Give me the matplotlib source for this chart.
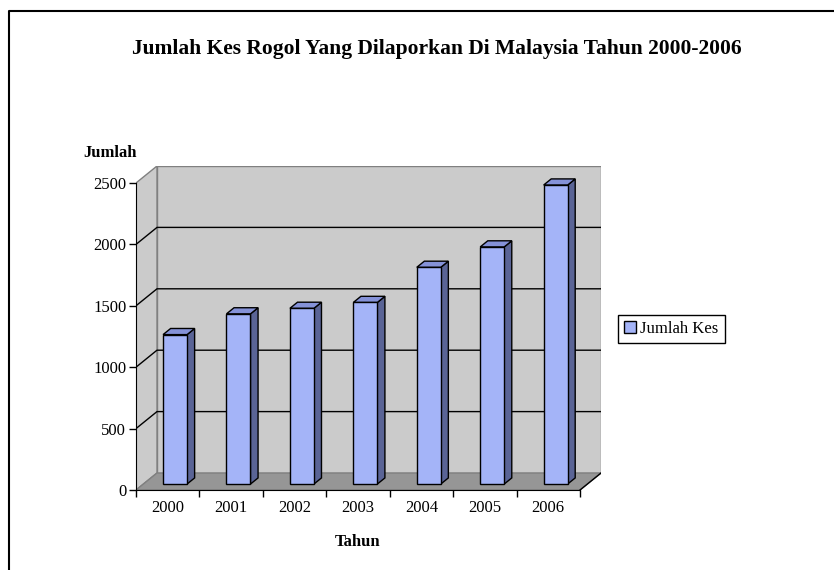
import numpy as np
import matplotlib
matplotlib.use('Agg')
import matplotlib.pyplot as plt
from matplotlib.patches import Polygon
from matplotlib.lines import Line2D

plt.rcParams['font.family'] = ['Liberation Serif', 'DejaVu Serif']

# data
years = ['2000', '2001', '2002', '2003', '2004', '2005', '2006']
cases = [1217, 1386, 1431, 1479, 1765, 1931, 2435]
yticks = [0, 500, 1000, 1500, 2000, 2500]

# colours
c_front = '#A4B4F8'
c_side = '#5A6496'
c_top = '#8592D8'
c_wall = '#CBCBCB'
c_floor = '#969696'
c_edge = '#808080'

fig = plt.figure(figsize=(8.34, 5.70), dpi=100)

# oblique depth in data units (px offset 21 right, 17 up)
n = len(years)
px_x = 63.43
ymax = 2500
dx = 21 / px_x
left_px, right_px = 136, 136 + (n + dx) * px_x
bot_px = 490
ypp = (bot_px - 183) / ymax          # px per unit on front axis
dy = 17 / ypp

ax = fig.add_axes([left_px / 834, (570 - bot_px) / 570,
                   (right_px - left_px) / 834, (ymax + dy) * ypp / 570])
ax.set_xlim(-0.5, n - 0.5 + dx)
ax.set_ylim(0, ymax + dy)
ax.patch.set_visible(False)

x0, x1 = -0.5, n - 0.5

# back wall
ax.add_patch(Polygon([(x0 + dx, dy), (x1 + dx, dy), (x1 + dx, ymax + dy), (x0 + dx, ymax + dy)],
                     closed=True, facecolor=c_wall, edgecolor=c_edge, lw=1, zorder=1))
# left wall
ax.add_patch(Polygon([(x0, 0), (x0 + dx, dy), (x0 + dx, ymax + dy), (x0, ymax)],
                     closed=True, facecolor=c_wall, edgecolor=c_edge, lw=1, zorder=1))
# gridlines on both walls
for v in yticks[1:-1]:
    ax.plot([x0, x0 + dx, x1 + dx], [v, v + dy, v + dy], color='black', lw=1, zorder=2)
# floor
ax.add_patch(Polygon([(x0, 0), (x1, 0), (x1 + dx, dy), (x0 + dx, dy)],
                     closed=True, facecolor=c_floor, edgecolor=c_edge, lw=1, zorder=3))
ax.plot([x1, x1 + dx], [0, dy], color='black', lw=1, zorder=3)

# bars: front face at 0.35 depth, bar depth 0.36
f0, fd = 0.35, 0.36
w = 24 / px_x
xs = np.arange(n)
bars = ax.bar(xs + f0 * dx, cases, width=w, bottom=f0 * dy, color=c_front,
              edgecolor='black', lw=1, zorder=5, label='Jumlah Kes')
for xi, v in zip(xs, cases):
    xl = xi + f0 * dx - w / 2
    xr = xl + w
    b = f0 * dy
    t = b + v
    ox, oy = fd * dx, fd * dy
    ax.add_patch(Polygon([(xr, b), (xr + ox, b + oy), (xr + ox, t + oy), (xr, t)],
                         closed=True, facecolor=c_side, edgecolor='black', lw=1, zorder=4))
    ax.add_patch(Polygon([(xl, t), (xr, t), (xr + ox, t + oy), (xl + ox, t + oy)],
                         closed=True, facecolor=c_top, edgecolor='black', lw=1, zorder=4))

# axes
for s in ['top', 'right']:
    ax.spines[s].set_visible(False)
ax.spines['left'].set_bounds(0, ymax)
ax.spines['bottom'].set_bounds(x0, x1)
ax.spines['left'].set_zorder(6)
ax.spines['bottom'].set_zorder(6)
ax.set_yticks(yticks)
ax.set_yticklabels([str(v) for v in yticks], fontsize=12)
ax.set_xticks(np.arange(n + 1) - 0.5)
ax.set_xticklabels([])
ax.set_xticks(xs, minor=True)
ax.set_xticklabels(years, minor=True, fontsize=12)
ax.tick_params(axis='x', which='minor', length=0, pad=7)
ax.tick_params(axis='both', which='major', length=5, width=1, color='black')
ax.tick_params(axis='y', pad=2)

# texts
fig.text(437 / 834, 1 - 49 / 570, 'Jumlah Kes Rogol Yang Dilaporkan Di Malaysia Tahun 2000-2006',
         ha='center', va='center', fontsize=15.5, fontweight='bold')
fig.text(110 / 834, 1 - 153 / 570, 'Jumlah', ha='center', va='center', fontsize=12, fontweight='bold')
fig.text(358 / 834, 1 - 542 / 570, 'Tahun', ha='center', va='center', fontsize=12, fontweight='bold')

leg = ax.legend(handles=[bars], loc='center left', bbox_to_anchor=(618 / 834, 1 - 329 / 570),
                bbox_transform=fig.transFigure, fontsize=12, fancybox=False, framealpha=1,
                edgecolor='black', handlelength=0.7, handleheight=0.7, handletextpad=0.3,
                borderpad=0.35, borderaxespad=0)
leg.get_frame().set_linewidth(1)

# outer frame of the chart area
fig.add_artist(Line2D([9 / 834, 9 / 834, 1], [0, 1 - 11 / 570, 1 - 11 / 570],
                      color='black', lw=1.5, transform=fig.transFigure))

plt.savefig('out.png', dpi=100)
